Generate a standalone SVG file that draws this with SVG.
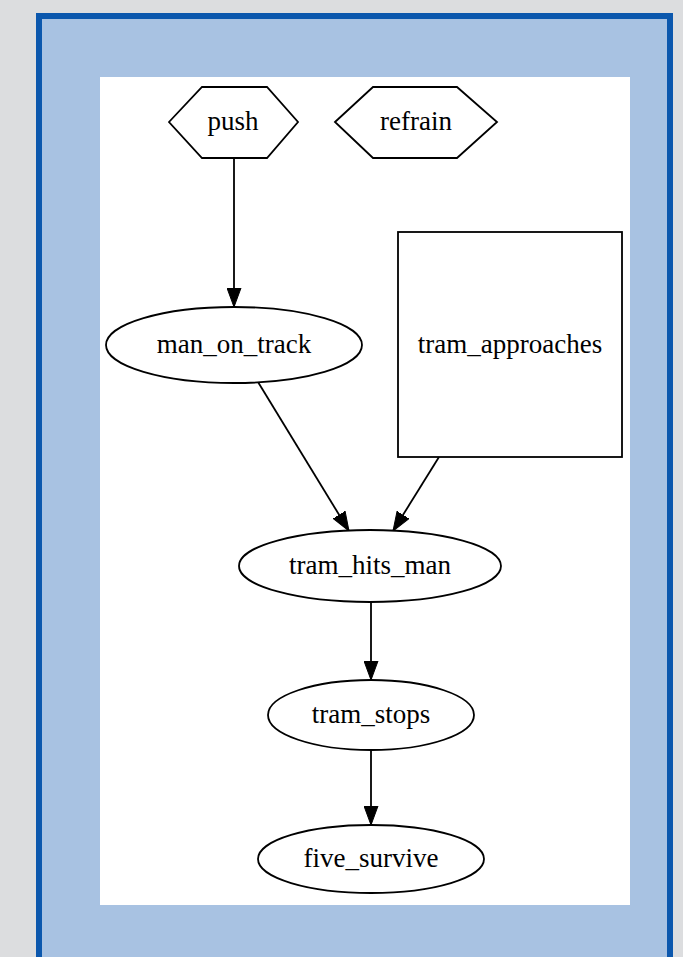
<svg xmlns="http://www.w3.org/2000/svg" width="683" height="957" viewBox="0 0 683 957">
<style>
.n{fill:#ffffff;stroke:#000000;stroke-width:1.8}
.t{font-family:"Liberation Serif","Times New Roman",serif;font-size:27px;fill:#000000;text-anchor:middle}
.e{fill:none;stroke:#000000;stroke-width:1.8}
</style>
<defs>
<marker id="arr" markerWidth="19" markerHeight="15" refX="19" refY="7.5" orient="auto" markerUnits="userSpaceOnUse">
<path d="M0,0.5 L19,7.5 L0,14.5 Z" fill="#000000" stroke="#000000" stroke-width="1"/>
</marker>
</defs>
<rect x="0" y="0" width="683" height="957" fill="#dcdddf"/>
<rect x="39" y="16" width="631" height="960" fill="#a8c2e2" stroke="#0b57ad" stroke-width="6"/>
<rect x="100" y="77" width="530" height="828" fill="#ffffff"/>
<g id="connectors">
<line class="e" x1="234" y1="158" x2="234" y2="307" marker-end="url(#arr)"/>
<line class="e" x1="258" y1="382" x2="349" y2="531" marker-end="url(#arr)"/>
<line class="e" x1="439" y1="457" x2="393" y2="531" marker-end="url(#arr)"/>
<line class="e" x1="371" y1="602" x2="371" y2="680" marker-end="url(#arr)"/>
<line class="e" x1="371" y1="750" x2="371" y2="825" marker-end="url(#arr)"/>
</g>
<g id="push">
<polygon class="n" points="169,122 202,87 267,87 298,122 267,158 202,158"/>
<text class="t" x="233" y="130">push</text>
</g>
<g id="refrain">
<polygon class="n" points="335,122 373,87 457,87 497,122 457,158 373,158"/>
<text class="t" x="416" y="130">refrain</text>
</g>
<g id="man_on_track">
<ellipse class="n" cx="234" cy="345" rx="128" ry="38"/>
<text class="t" x="234" y="353">man_on_track</text>
</g>
<g id="tram_approaches">
<rect class="n" x="398" y="232" width="224" height="225"/>
<text class="t" x="510" y="353">tram_approaches</text>
</g>
<g id="tram_hits_man">
<ellipse class="n" cx="370" cy="566" rx="131" ry="36"/>
<text class="t" x="370" y="574">tram_hits_man</text>
</g>
<g id="tram_stops">
<ellipse class="n" cx="371" cy="715" rx="103" ry="35"/>
<text class="t" x="371" y="723">tram_stops</text>
</g>
<g id="five_survive">
<ellipse class="n" cx="371" cy="859" rx="113" ry="34"/>
<text class="t" x="371" y="867">five_survive</text>
</g>
</svg>
